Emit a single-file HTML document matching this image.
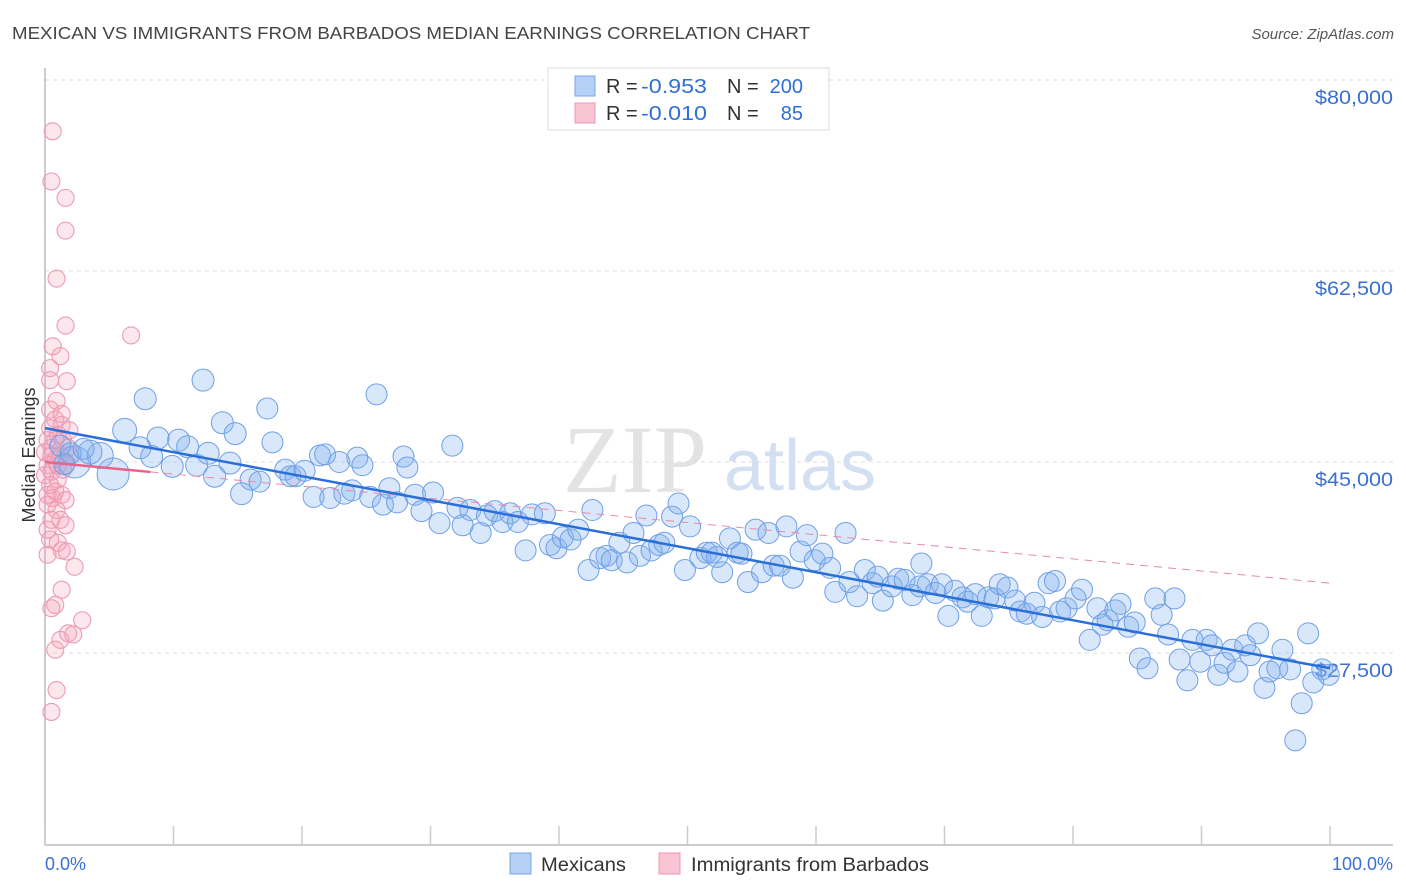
<!DOCTYPE html>
<html><head><meta charset="utf-8"><style>
body{margin:0;background:#fff;}
svg{display:block;font-family:"Liberation Sans",sans-serif;}
</style></head><body>
<svg id="chart" width="1406" height="892">
<text x="12" y="39" font-size="17.5" fill="#444" textLength="798" lengthAdjust="spacingAndGlyphs">MEXICAN VS IMMIGRANTS FROM BARBADOS MEDIAN EARNINGS CORRELATION CHART</text>
<text x="1394" y="39" font-size="15" fill="#555" font-style="italic" text-anchor="end">Source: ZipAtlas.com</text>
<g>
<text x="635" y="492" font-size="96" font-family="Liberation Serif,serif" fill="#ddd" text-anchor="middle" opacity="0.8">ZIP</text>
<text x="800" y="490" font-size="72" fill="#c9d9f0" text-anchor="middle" opacity="0.8">atlas</text>
</g>
<g id="grid"></g>
<g id="axes"></g>
<g id="pink"></g>
<g id="blue"></g>
<g id="lines"></g>
<text x="35" y="455" font-size="18" fill="#333" text-anchor="middle" transform="rotate(-90 35 455)">Median Earnings</text>
<text x="45" y="870" font-size="18" fill="#3a70d0">0.0%</text>
<text x="1393" y="870" font-size="18" fill="#3a70d0" text-anchor="end">100.0%</text>
<g>
<rect x="548" y="68" width="281" height="62" fill="#fff" stroke="#ddd"/>
<rect x="575" y="76" width="20" height="20" fill="#b5d0f5" stroke="#7aa6e6"/>
<rect x="575" y="103" width="20" height="20" fill="#f9c4d3" stroke="#ec9ab2"/>
<g font-size="20" fill="#333">
<text x="606" y="93">R =</text><text x="641" y="93" fill="#2f6fd6" textLength="66" lengthAdjust="spacingAndGlyphs">-0.953</text>
<text x="727" y="93">N =</text><text x="803" y="93" fill="#2f6fd6" text-anchor="end">200</text>
<text x="606" y="120">R =</text><text x="641" y="120" fill="#2f6fd6" textLength="66" lengthAdjust="spacingAndGlyphs">-0.010</text>
<text x="727" y="120">N =</text><text x="803" y="120" fill="#2f6fd6" text-anchor="end">85</text>
</g>
</g>
<g>
<rect x="510" y="853" width="21" height="21" fill="#b5d0f5" stroke="#7aa6e6"/>
<text x="541" y="871" font-size="19" fill="#333" textLength="85" lengthAdjust="spacingAndGlyphs">Mexicans</text>
<rect x="659" y="853" width="21" height="21" fill="#f9c4d3" stroke="#ec9ab2"/>
<text x="691" y="871" font-size="19" fill="#333" textLength="238" lengthAdjust="spacingAndGlyphs">Immigrants from Barbados</text>
</g>
</svg>
<script>
const yTicks=[80000,62500,45000,27500];
const yTickLabels=["$80,000","$62,500","$45,000","$27,500"];
const xTicks=[0,10,20,30,40,50,60,70,80,90,100];
const blueX=[2.3,5.3,4.3,3.5,6.2,7.8,8.8,7.4,8.3,9.9,10.4,11.1,11.8,12.3,12.7,13.2,13.8,14.4,14.8,15.3,16.0,16.7,17.3,17.7,18.7,19.1,19.5,20.2,20.9,21.4,21.8,22.2,22.9,23.3,23.9,24.3,24.7,25.3,25.8,26.3,26.8,27.4,27.9,28.2,28.8,29.3,30.2,30.7,31.7,32.1,32.5,33.1,33.9,34.4,35.0,35.6,36.2,36.8,37.4,37.9,38.9,39.3,39.8,40.3,40.9,41.5,42.3,42.6,43.2,43.7,44.1,44.7,45.3,45.8,46.3,46.8,47.2,47.8,48.2,48.8,49.3,49.8,50.2,51.0,51.5,51.9,52.3,52.7,53.3,53.9,54.2,54.7,55.3,55.8,56.3,56.7,57.2,57.7,58.2,58.8,59.3,59.9,60.5,61.1,61.5,62.3,62.6,63.2,63.8,64.4,64.8,65.2,65.9,66.4,66.9,67.5,68.1,68.2,68.7,69.3,69.8,70.3,70.8,71.4,71.8,72.4,72.9,73.4,73.9,74.3,74.9,75.5,75.9,76.4,77.0,77.6,78.1,78.6,79.0,79.5,80.2,80.7,81.3,81.9,82.3,82.7,83.3,83.7,84.3,84.8,85.2,85.8,86.4,86.9,87.4,87.9,88.3,88.9,89.3,89.9,90.4,90.8,91.3,91.8,92.4,92.8,93.4,93.8,94.4,94.9,95.3,95.9,96.3,96.9,97.3,97.8,98.3,98.7,99.4,99.9,1.2,2.0,3.0,1.5];
const blueY=[45.0,43.9,45.6,45.9,47.9,50.8,47.2,46.3,45.5,44.6,47.0,46.4,44.7,52.5,45.8,43.7,48.6,44.9,47.6,42.1,43.4,43.2,49.9,46.8,44.3,43.7,43.7,44.2,41.8,45.6,45.7,41.7,45.0,42.1,42.4,45.4,44.7,41.8,51.2,41.1,42.6,41.3,45.5,44.5,42.0,40.5,42.2,39.4,46.5,40.8,39.2,40.6,38.5,40.1,40.5,39.5,40.3,39.5,36.9,40.2,40.3,37.4,37.1,38.1,37.9,38.8,35.1,40.6,36.2,36.4,36.0,37.6,35.8,38.5,36.4,40.1,36.9,37.4,37.6,40.0,41.2,35.1,39.1,36.2,36.7,36.7,36.3,34.9,38.0,36.7,36.6,34.0,38.8,34.9,38.5,35.5,35.5,39.1,34.4,36.8,38.3,36.0,36.6,35.3,33.1,38.5,34.0,32.7,35.1,33.9,34.5,32.3,33.6,34.3,34.2,32.8,33.6,35.7,33.8,33.0,33.8,30.9,33.2,32.6,32.2,32.9,30.9,32.6,32.5,33.8,33.5,32.3,31.3,31.1,32.1,30.8,33.9,34.1,31.3,31.6,32.5,33.3,28.7,31.6,30.1,30.5,31.4,32.0,29.9,30.3,27.0,26.1,32.5,31.0,29.2,32.5,26.9,25.0,28.7,26.7,28.7,28.2,25.5,26.6,27.8,25.8,28.2,27.3,29.3,24.3,25.8,26.1,27.8,26.0,19.5,22.9,29.3,24.8,26.0,25.5,46.5,45.8,46.2,44.8];
const blueR=[16,16,13,12,12,11,11,11,11,11,11,11,11,11,11,11,11,11,11,11];
const pinkX=[0.6,0.5,1.6,1.6,0.9,1.6,6.7,0.6,1.2,0.4,1.7,0.4,0.9,1.3,0.8,0.4,1.0,0.2,1.4,0.5,0,1.2,0.8,0.2,1.6,0.5,1.0,0.4,1.3,0.8,0.2,0.9,0.5,1.6,0.4,1.0,1.3,1.7,2.3,1.3,0.8,0.5,2.9,2.2,1.2,0.8,0.9,0.5,1.9,1.8,0,0.6,0.2,1.2,0.2,1.9,1.4,0.8,0.4,1.3,0.2,1.0,0.5,1.6,1.8];
const pinkY=[75.3,70.7,69.2,66.2,61.8,57.5,56.6,55.6,54.7,53.6,52.4,52.5,50.6,49.4,48.9,48.1,47.5,47.0,47.0,46.3,45.9,45.6,45.2,44.7,44.7,44.1,43.4,42.9,42.0,42.3,41.1,40.6,39.7,39.2,37.9,37.6,36.9,36.8,35.4,33.3,31.9,31.6,30.5,29.2,28.7,27.8,24.1,22.1,47.9,46.3,43.8,41.7,38.8,39.7,36.5,45.6,44.3,47.0,49.8,48.4,42.0,44.7,45.6,41.5,29.3];
const blueFit=[48.1,26.1];
const pinkFit=[45.0,33.9];
const NS="http://www.w3.org/2000/svg";
const X=p=>45+p*12.85;
const Y=v=>80+(80000-v)*191/17500;
function mk(t,a,parent){const e=document.createElementNS(NS,t);for(const k in a)e.setAttribute(k,a[k]);parent.appendChild(e);return e;}
const grid=document.getElementById('grid'),axes=document.getElementById('axes');
yTicks.forEach((v,i)=>{
 const l=mk('line',{x1:45,x2:1393,y1:Y(v),y2:Y(v),stroke:'#ddd','stroke-dasharray':'4,4'},grid);
 
 
 const t=mk('text',{x:1393,y:Y(v)+24,'font-size':19,fill:'#3a70d0','text-anchor':'end',textLength:78,lengthAdjust:'spacingAndGlyphs'},grid);
 t.textContent=yTickLabels[i];
 
 
});
const ax=mk('path',{d:'M45 68V845H1393',fill:'none',stroke:'#bbb','stroke-width':1.5},axes);


xTicks.forEach(p=>{
 const t=mk('line',{x1:X(p),x2:X(p),y1:826,y2:845,stroke:'#ccc','stroke-width':1.5},axes);
 
 
});
const pg=document.getElementById('pink');
pinkX.forEach((p,i)=>{
 const c=mk('circle',{cx:X(p),cy:Y(pinkY[i]*1000),r:8.5,fill:'rgba(244,160,185,0.25)',stroke:'#ee9ab4','stroke-width':1.1},pg);
 
 
});
const bg=document.getElementById('blue');
blueX.forEach((p,i)=>{
 const c=mk('circle',{cx:X(p),cy:Y(blueY[i]*1000),r:blueR[i]||10.5,fill:'rgba(130,175,238,0.3)',stroke:'#6f9fe6','stroke-width':1},bg);
 
 
});
const lg=document.getElementById('lines');
const pinkAt=p=>pinkFit[0]+(pinkFit[1]-pinkFit[0])*p/100;
const pd=mk('line',{x1:X(8.2),y1:Y(pinkAt(8.2)*1000),x2:X(100),y2:Y(pinkFit[1]*1000),stroke:'#e88aa8','stroke-width':1,'stroke-dasharray':'8,6'},lg);


const ps=mk('line',{x1:X(0),y1:Y(pinkFit[0]*1000),x2:X(8.2),y2:Y(pinkAt(8.2)*1000),stroke:'#e8628c','stroke-width':2.5},lg);


const bl=mk('line',{x1:X(0),y1:Y(blueFit[0]*1000),x2:X(100),y2:Y(blueFit[1]*1000),stroke:'#2a6fd8','stroke-width':2.5},lg);


</script>
</body></html>
